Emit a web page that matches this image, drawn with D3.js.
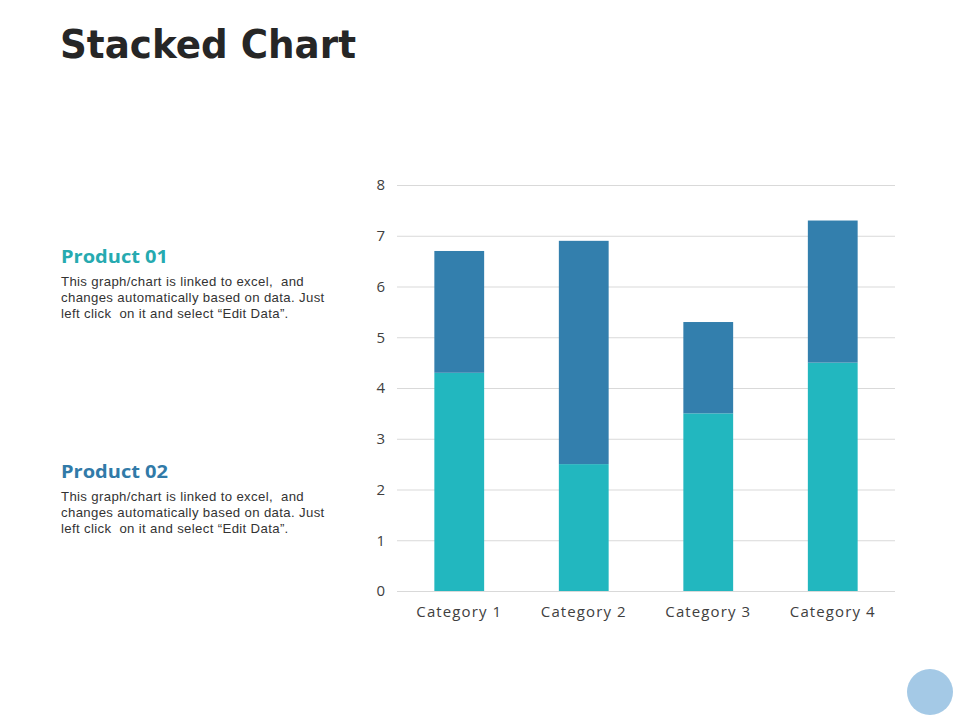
<!DOCTYPE html>
<html>
<head>
<meta charset="utf-8">
<script src="https://cdn.jsdelivr.net/npm/d3@7"></script>
<style>
  body { margin: 0; background: #fff; }
  svg { display: block; }
</style>
</head>
<body>
<div id="chart"></div>
<script>
const categories = ["Category 1", "Category 2", "Category 3", "Category 4"];
const product01 = [4.3, 2.5, 3.5, 4.5];
const product02 = [2.4, 4.4, 1.8, 2.8];
const seriesNames = ["Product 01", "Product 02"];
const yTicks = [0, 1, 2, 3, 4, 5, 6, 7, 8];
const description = [
  "This graph/chart is linked to excel,  and",
  "changes automatically based on data. Just",
  "left click  on it and select \u201cEdit Data\u201d."
];

const config = {
  width: 960,
  height: 720,
  plot: {left: 397, right: 895, top: 185, bottom: 591},
  colors: ["#22b7bf", "#337fad"],
  headColors: ["#26aab0", "#317aa8"],
  gridColor: "#d9d9d9",
  labelColor: "#404040",
  axisFont: "'Open Sans', 'Lato', sans-serif"
};

const svg = d3.select("#chart")
  .append("svg")
  .attr("width", config.width)
  .attr("height", config.height)
  .attr("viewBox", [0, 0, config.width, config.height]);

// title
svg.append("text")
  .attr("x", 60)
  .attr("y", 58)
  .attr("font-family", "'DejaVu Sans', sans-serif")
  .attr("font-weight", 700)
  .attr("font-size", 39)
  .attr("textLength", 296)
  .attr("lengthAdjust", "spacingAndGlyphs")
  .attr("fill", "#262626")
  .text("Stacked Chart");

// side notes
const notes = [{y: 263}, {y: 478}];
notes.forEach((n, i) => {
  const g = svg.append("g").attr("transform", `translate(61,${n.y})`);
  g.append("text")
    .attr("font-family", "'Open Sans', sans-serif")
    .attr("font-weight", 700)
    .attr("font-size", 18.5)
    .attr("textLength", 107)
    .attr("lengthAdjust", "spacingAndGlyphs")
    .attr("fill", config.headColors[i])
    .text(seriesNames[i]);
  g.selectAll("text.desc")
    .data(description)
    .join("text")
    .attr("class", "desc")
    .attr("y", (d, j) => 23 + j * 15.8)
    .attr("font-family", "'Liberation Sans', Arial, sans-serif")
    .attr("font-size", 13.2)
    .attr("letter-spacing", 0.35)
    .attr("fill", "#333")
    .style("white-space", "pre")
    .text(d => d);
});

// scales
const x = d3.scaleBand(categories, [config.plot.left, config.plot.right])
  .paddingInner(0.6)
  .paddingOuter(0.3);
const y = d3.scaleLinear([0, 8], [config.plot.bottom, config.plot.top]);

// grid
svg.append("g")
  .selectAll("line")
  .data(yTicks)
  .join("line")
  .attr("x1", config.plot.left)
  .attr("x2", config.plot.right)
  .attr("y1", d => y(d) + 0.5)
  .attr("y2", d => y(d) + 0.5)
  .attr("stroke", config.gridColor)
  .attr("stroke-width", 1);

// y axis labels
const yAxis = d3.axisLeft(y).tickValues(yTicks).tickSize(0).tickPadding(0);
svg.append("g")
  .attr("transform", `translate(385,0)`)
  .call(yAxis)
  .call(g => g.select(".domain").remove())
  .call(g => g.selectAll("text")
    .attr("font-family", config.axisFont)
    .attr("font-size", 15)
    .attr("fill", config.labelColor));

// stacked bars
const rows = categories.map((c, i) => ({category: c, p1: product01[i], p2: product02[i]}));
const stack = d3.stack().keys(["p1", "p2"])(rows);

svg.append("g")
  .selectAll("g")
  .data(stack)
  .join("g")
  .attr("fill", (d, i) => config.colors[i])
  .selectAll("rect")
  .data(d => d)
  .join("rect")
  .attr("x", d => x(d.data.category))
  .attr("width", x.bandwidth())
  .attr("y", d => y(d[1]))
  .attr("height", d => y(d[0]) - y(d[1]));

// x axis labels
const xAxis = d3.axisBottom(x).tickSize(0).tickPadding(0);
svg.append("g")
  .attr("transform", `translate(0,${config.plot.bottom + 15})`)
  .call(xAxis)
  .call(g => g.select(".domain").remove())
  .call(g => g.selectAll("text")
    .attr("font-family", config.axisFont)
    .attr("font-size", 15)
    .attr("letter-spacing", 1.1)
    .attr("fill", config.labelColor));

// decorative circle
svg.append("circle")
  .attr("cx", 930)
  .attr("cy", 692)
  .attr("r", 23)
  .attr("fill", "#a4c9e6");
</script>
</body>
</html>
